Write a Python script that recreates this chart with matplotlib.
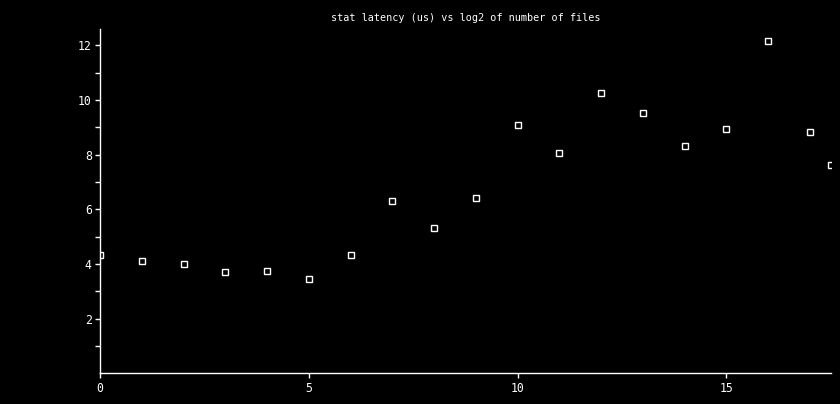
import matplotlib
matplotlib.use("Agg")
import matplotlib.pyplot as plt

# data
x_vals = [0, 1, 2, 3, 4, 5, 6, 7, 8, 9, 10, 11, 12, 13, 14, 15, 16, 17, 17.5]
latency = [4.31, 4.10, 4.00, 3.71, 3.74, 3.45, 4.33, 6.29, 5.31, 6.40,
           9.07, 8.05, 10.24, 9.51, 8.31, 8.93, 12.16, 8.82, 7.61]
x_ticks = [0, 5, 10, 15]
y_major = [2, 4, 6, 8, 10, 12]
y_minor = [1, 3, 5, 7, 9, 11]
title = "stat latency (us) vs log2 of number of files"

W, H = 840, 404
fig = plt.figure(figsize=(W / 100, H / 100), dpi=100, facecolor="black")
ax = fig.add_axes([100 / W, (H - 373.3) / H, (830.7 - 100) / W, (373.3 - 29.3) / H])
ax.set_facecolor("black")

ax.plot(x_vals, latency, linestyle="none", marker="s", markersize=4.8,
        markerfacecolor="none", markeredgecolor="white", markeredgewidth=1.0)

ax.set_xlim(0, 17.5)
ax.set_ylim(0, 12.58)

tick_font = {"family": "DejaVu Sans Mono", "size": 8.3, "color": "white"}
title_font = {"family": "DejaVu Sans Mono", "size": 7.3, "color": "white"}
ax.set_xticks(x_ticks)
ax.set_xticklabels([str(t) for t in x_ticks], fontdict=tick_font)
ax.set_yticks(y_major)
ax.set_yticklabels([str(t) for t in y_major], fontdict=tick_font)
ax.set_yticks(y_minor, minor=True)

ax.tick_params(axis="both", which="both", colors="white", direction="out",
               length=3.5, width=1.0, pad=2.5)

for s in ["top", "right"]:
    ax.spines[s].set_visible(False)
for s in ["left", "bottom"]:
    ax.spines[s].set_color("white")
    ax.spines[s].set_linewidth(1.0)

ax.set_title(title, fontdict=title_font, pad=6)

fig.savefig("out.png", dpi=100, facecolor="black")
